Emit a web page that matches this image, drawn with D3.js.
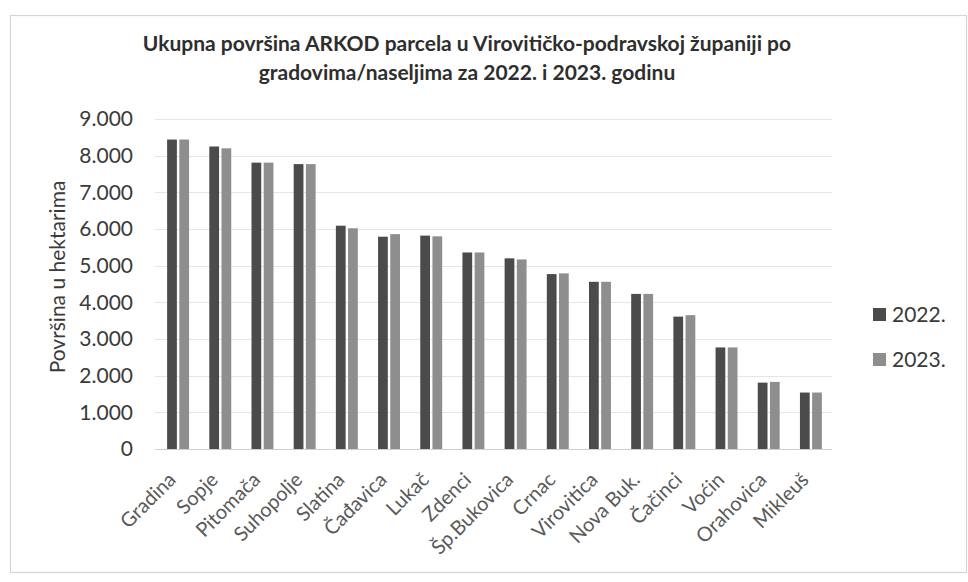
<!DOCTYPE html>
<html>
<head>
<meta charset="utf-8">
<script src="https://cdn.jsdelivr.net/npm/d3@7"></script>
<style>
  html, body { margin: 0; padding: 0; background: #fff; }
  svg { display: block; }
</style>
</head>
<body>
<svg id="chart" width="968" height="582"></svg>
<script>
const categories = ["Gradina", "Sopje", "Pitomača", "Suhopolje", "Slatina", "Čađavica", "Lukač", "Zdenci", "Šp.Bukovica", "Crnac", "Virovitica", "Nova Buk.", "Čačinci", "Voćin", "Orahovica", "Mikleuš"];
const seriesNames = ["2022.", "2023."];
const values2022 = [8440, 8250, 7810, 7770, 6090, 5790, 5820, 5360, 5200, 4770, 4560, 4230, 3610, 2770, 1810, 1540];
const values2023 = [8440, 8200, 7810, 7770, 6020, 5860, 5800, 5360, 5170, 4790, 4560, 4230, 3650, 2770, 1830, 1540];
const yTicks = [0, 1000, 2000, 3000, 4000, 5000, 6000, 7000, 8000, 9000];
const titleLines = ["Ukupna površina ARKOD parcela u Virovitičko-podravskoj županiji po", "gradovima/naseljima za 2022. i 2023. godinu"];
const yAxisTitle = "Površina u hektarima";
const colors = ["#4b4b4b", "#8e8e8e"];

const svg = d3.select("#chart");
const font = "Lato, 'Open Sans', sans-serif";

// chart frame
svg.append("rect")
  .attr("x", 10.5).attr("y", 15.5)
  .attr("width", 956).attr("height", 557)
  .attr("fill", "#fff")
  .attr("stroke", "#d4d4d4")
  .attr("stroke-width", 1.2);

const data = categories.map((c, i) => ({ cat: c, vals: [values2022[i], values2023[i]] }));

const x0 = d3.scaleBand().domain(categories).range([157, 832]).paddingInner(0.48).paddingOuter(0.24);
const x1 = d3.scaleBand().domain(seriesNames).range([0, x0.bandwidth()]).paddingInner(0.2);
const y = d3.scaleLinear().domain([0, 9000]).range([449, 119]);

// gridlines
svg.append("g")
  .selectAll("line")
  .data(yTicks)
  .join("line")
  .attr("x1", 155).attr("x2", 832)
  .attr("y1", d => Math.round(y(d)) + 0.5)
  .attr("y2", d => Math.round(y(d)) + 0.5)
  .attr("stroke", d => d === 0 ? "#d0d0d0" : "#e6e6e6")
  .attr("stroke-width", 1);

// y axis labels
const yAxis = d3.axisLeft(y).tickValues(yTicks).tickSize(0).tickPadding(0)
  .tickFormat(d => d === 0 ? "0" : d3.format(",")(d).replace(/,/g, "."));
const gy = svg.append("g").attr("transform", "translate(133,0)").call(yAxis);
gy.select(".domain").remove();
gy.selectAll("text")
  .attr("font-family", font)
  .attr("font-size", 21)
  .attr("fill", "#3a3a3a");

// bars
const groups = svg.append("g")
  .selectAll("g")
  .data(data)
  .join("g")
  .attr("transform", d => `translate(${x0(d.cat)},0)`);

groups.selectAll("rect")
  .data(d => d.vals.map((v, i) => ({ key: seriesNames[i], v, i })))
  .join("rect")
  .attr("x", d => x1(d.key))
  .attr("width", x1.bandwidth())
  .attr("y", d => y(d.v))
  .attr("height", d => y(0) - y(d.v))
  .attr("fill", d => colors[d.i]);

// x labels
svg.append("g")
  .selectAll("text")
  .data(categories)
  .join("text")
  .attr("transform", d => `translate(${x0(d) + x0.bandwidth() / 2 - 1},481) rotate(-45)`)
  .attr("text-anchor", "end")
  .attr("font-family", font)
  .attr("font-size", 20)
  .attr("fill", "#5a5a5a")
  .text(d => d);

// y axis title
svg.append("text")
  .attr("transform", "translate(65,277) rotate(-90)")
  .attr("text-anchor", "middle")
  .attr("font-family", font)
  .attr("font-size", 21)
  .attr("fill", "#3a3a3a")
  .text(yAxisTitle);

// title
svg.append("g")
  .selectAll("text")
  .data(titleLines)
  .join("text")
  .attr("x", 467)
  .attr("y", (d, i) => 51 + i * 29)
  .attr("text-anchor", "middle")
  .attr("font-family", font)
  .attr("font-weight", "bold")
  .attr("font-size", 21)
  .attr("fill", "#2e2e2e")
  .text(d => d);

// legend
const legend = svg.append("g")
  .selectAll("g")
  .data(seriesNames)
  .join("g")
  .attr("transform", (d, i) => `translate(873,${315 + i * 45})`);
legend.append("rect")
  .attr("x", 0).attr("y", -7)
  .attr("width", 13).attr("height", 13)
  .attr("fill", (d, i) => colors[i]);
legend.append("text")
  .attr("x", 19).attr("y", 0)
  .attr("dy", "0.35em")
  .attr("font-family", font)
  .attr("font-size", 21)
  .attr("fill", "#3a3a3a")
  .text(d => d);
</script>
</body>
</html>
